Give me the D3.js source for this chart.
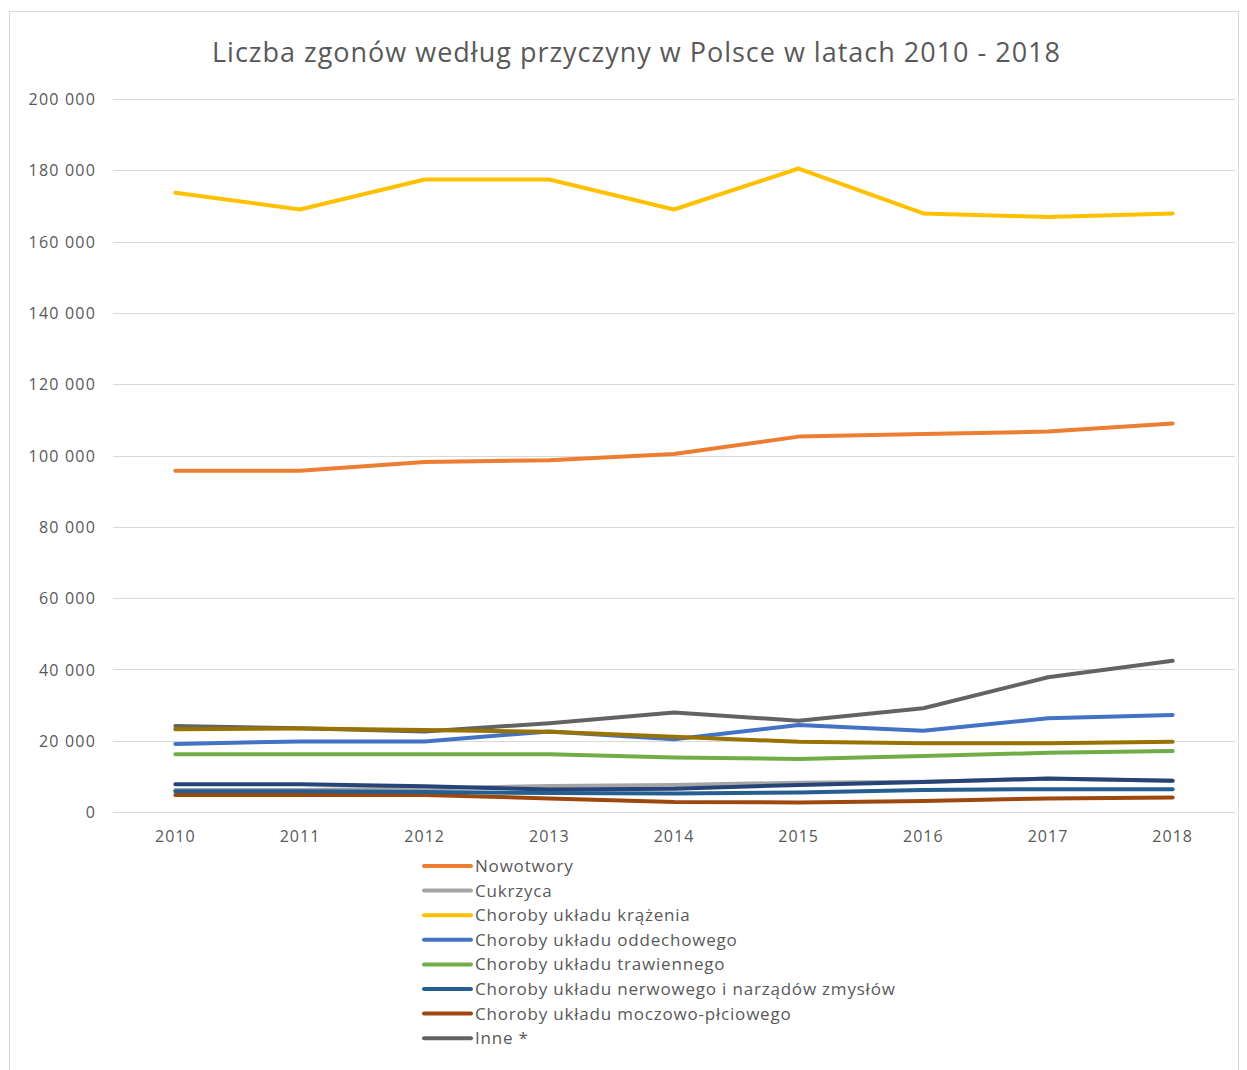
<!DOCTYPE html>
<html>
<head>
<meta charset="utf-8">
<script src="https://cdn.jsdelivr.net/npm/d3@7"></script>
<style>
  body { margin: 0; background: #fff; }
  text { font-family: "Open Sans", "Noto Sans", sans-serif; fill: #595959; }
</style>
</head>
<body>
<svg id="chart" width="1247" height="1070"></svg>
<script>
// lata
var years = ["2010", "2011", "2012", "2013", "2014", "2015", "2016", "2017", "2018"];

// wartości
var nowotwory   = [95700, 95700, 98200, 98700, 100400, 105300, 106000, 106700, 109000];
var cukrzyca    = [6200, 6200, 6600, 7300, 7600, 8200, 8500, 9300, 8800];
var krazenia    = [173700, 169000, 177400, 177400, 169000, 180500, 167900, 166900, 167900];
var oddechowego = [19100, 19800, 19800, 22600, 20400, 24400, 22800, 26300, 27200];
var trawiennego = [16200, 16200, 16200, 16200, 15300, 14900, 15700, 16600, 17100];
var nerwowego   = [5800, 5800, 5600, 5300, 5200, 5500, 6200, 6400, 6400];
var moczowo     = [4800, 4800, 4800, 3800, 2800, 2700, 3100, 3800, 4100];
var inne        = [24100, 23500, 22600, 24900, 27900, 25600, 29100, 37800, 42400];
// dwie serie bez wpisu w legendzie
var seria7      = [7800, 7800, 7200, 6300, 6500, 7600, 8400, 9400, 8800];
var seria10     = [23200, 23400, 23000, 22500, 21100, 19700, 19300, 19300, 19700];

var yTicks = [0, 20000, 40000, 60000, 80000, 100000, 120000, 140000, 160000, 180000, 200000];

var series = [
  {name: "Choroby układu oddechowego", values: oddechowego, color: "#4472C4", legend: true},
  {name: "Nowotwory", values: nowotwory, color: "#ED7D31", legend: true},
  {name: "Cukrzyca", values: cukrzyca, color: "#A5A5A5", legend: true},
  {name: "Choroby układu krążenia", values: krazenia, color: "#FFC000", legend: true},
  {name: "Choroby układu trawiennego", values: trawiennego, color: "#70AD47", legend: true},
  {name: "Seria 7", values: seria7, color: "#264478", legend: false},
  {name: "Choroby układu moczowo-płciowego", values: moczowo, color: "#9E480E", legend: true},
  {name: "Inne *", values: inne, color: "#636363", legend: true},
  {name: "Seria 10", values: seria10, color: "#997300", legend: false},
  {name: "Choroby układu nerwowego i narządów zmysłów", values: nerwowego, color: "#255E91", legend: true}
];

var legendOrder = ["Nowotwory", "Cukrzyca", "Choroby układu krążenia", "Choroby układu oddechowego",
  "Choroby układu trawiennego", "Choroby układu nerwowego i narządów zmysłów",
  "Choroby układu moczowo-płciowego", "Inne *"];

var svg = d3.select("#chart");

// ramka obszaru wykresu
svg.append("rect")
  .attr("x", 9.5).attr("y", 11.5)
  .attr("width", 1229).attr("height", 1070)
  .attr("fill", "none").attr("stroke", "#d9d9d9");

var x = d3.scaleBand().domain(years).range([113, 1235]);
var y = d3.scaleLinear().domain([0, 200000]).range([812, 99]);

var fmt = function(d){ return d3.format(",")(d).replace(/,/g, " "); };

// siatka
svg.append("g")
  .selectAll("line")
  .data(yTicks)
  .join("line")
  .attr("x1", 113).attr("x2", 1235)
  .attr("y1", function(d){ return Math.round(y(d)) + 0.5; })
  .attr("y2", function(d){ return Math.round(y(d)) + 0.5; })
  .attr("stroke", "#d9d9d9")
  .attr("stroke-width", 1);

// oś Y
var yAxis = svg.append("g")
  .attr("transform", "translate(96,0)")
  .call(d3.axisLeft(y).tickValues(yTicks).tickFormat(fmt).tickSize(0).tickPadding(0));
yAxis.select(".domain").remove();
yAxis.selectAll("text")
  .attr("font-size", 16)
  .attr("dy", "0.35em")
  .style("letter-spacing", "1.2px")
  .style("font-family", "'Open Sans', sans-serif")
  .attr("fill", "#595959");

// oś X
var xAxis = svg.append("g")
  .attr("transform", "translate(0,812)")
  .call(d3.axisBottom(x).tickSize(0).tickPadding(19));
xAxis.select(".domain").remove();
xAxis.selectAll("text")
  .attr("font-size", 16)
  .style("letter-spacing", "1px")
  .style("font-family", "'Open Sans', sans-serif")
  .attr("fill", "#595959");

// linie
var line = d3.line()
  .x(function(d, i){ return x(years[i]) + x.bandwidth() / 2; })
  .y(function(d){ return y(d); });

svg.append("g")
  .selectAll("path")
  .data(series)
  .join("path")
  .attr("d", function(d){ return line(d.values); })
  .attr("fill", "none")
  .attr("stroke", function(d){ return d.color; })
  .attr("stroke-width", 4)
  .attr("stroke-linecap", "round")
  .attr("stroke-linejoin", "round");

// tytuł
svg.append("text")
  .attr("x", 636).attr("y", 62)
  .attr("text-anchor", "middle")
  .attr("font-size", 27)
  .attr("textLength", 848)
  .style("font-family", "'Open Sans', sans-serif")
  .attr("fill", "#595959")
  .text("Liczba zgonów według przyczyny w Polsce w latach 2010 - 2018");

// legenda
var legendData = legendOrder.map(function(n){
  return series.filter(function(s){ return s.name === n; })[0];
});

var leg = svg.append("g")
  .selectAll("g")
  .data(legendData)
  .join("g")
  .attr("transform", function(d, i){ return "translate(423," + (866 + i * 24.6) + ")"; });

leg.append("line")
  .attr("x1", 1).attr("x2", 48)
  .attr("stroke", function(d){ return d.color; })
  .attr("stroke-width", 4)
  .attr("stroke-linecap", "round");

leg.append("text")
  .attr("x", 52).attr("dy", "0.35em")
  .attr("font-size", 17)
  .style("letter-spacing", "0.8px")
  .style("font-family", "'Open Sans', sans-serif")
  .attr("fill", "#595959")
  .text(function(d){ return d.name; });
</script>
</body>
</html>
